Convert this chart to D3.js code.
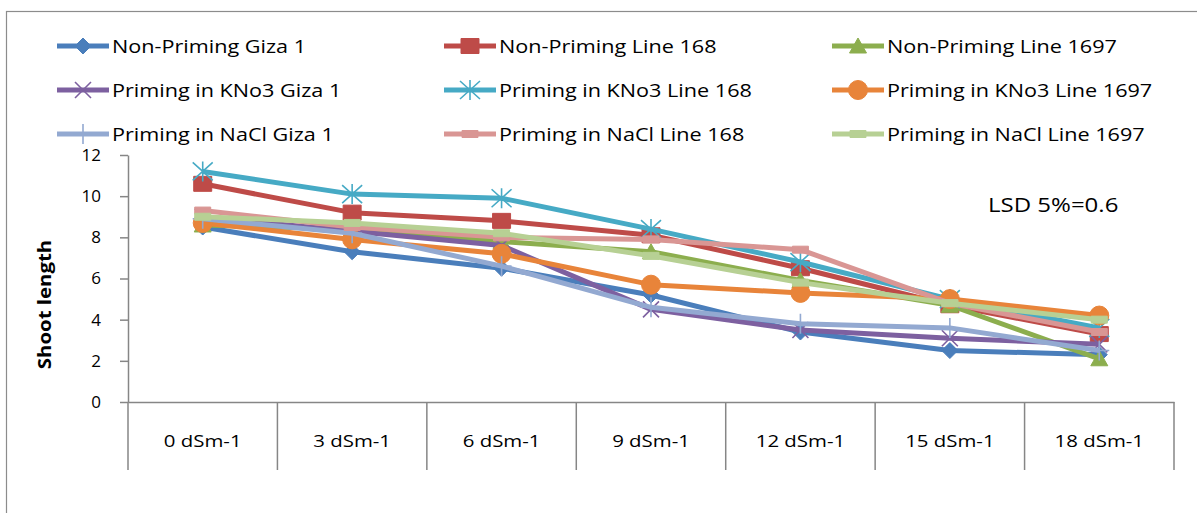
<!DOCTYPE html>
<html>
<head>
<meta charset="utf-8">
<script src="https://cdn.jsdelivr.net/npm/d3@7"></script>
<style>
  html, body { margin: 0; padding: 0; background: #fff; }
  svg { display: block; }
  text { font-family: "Open Sans", "DejaVu Sans", sans-serif; fill: #000; }
</style>
</head>
<body>
<svg id="chart" width="1197" height="513"></svg>
<script>
// Salinity levels on the x axis
const categories = ["0 dSm-1", "3 dSm-1", "6 dSm-1", "9 dSm-1", "12 dSm-1", "15 dSm-1", "18 dSm-1"];

// Shoot length per treatment and line
const nonPrimingGiza1      = [8.5, 7.3, 6.5, 5.2, 3.4, 2.5, 2.3];
const nonPrimingLine168    = [10.6, 9.2, 8.8, 8.1, 6.5, 4.7, 3.3];
const nonPrimingLine1697   = [8.6, 8.4, 7.8, 7.3, 5.9, 4.7, 2.1];
const kno3Giza1            = [9.0, 8.3, 7.6, 4.5, 3.5, 3.1, 2.8];
const kno3Line168          = [11.2, 10.1, 9.9, 8.4, 6.8, 5.0, 3.6];
const kno3Line1697         = [8.7, 7.9, 7.2, 5.7, 5.3, 5.0, 4.2];
const naclGiza1            = [8.9, 8.2, 6.6, 4.6, 3.8, 3.6, 2.5];
const naclLine168          = [9.3, 8.5, 8.0, 7.9, 7.4, 4.8, 3.4];
const naclLine1697         = [9.0, 8.7, 8.2, 7.1, 5.8, 4.8, 4.0];

const seriesNames = [
  "Non-Priming Giza 1", "Non-Priming Line 168", "Non-Priming Line 1697",
  "Priming in KNo3 Giza 1", "Priming in KNo3 Line 168", "Priming in KNo3 Line 1697",
  "Priming in NaCl Giza 1", "Priming in NaCl Line 168", "Priming in NaCl Line 1697"
];
const seriesValues = [
  nonPrimingGiza1, nonPrimingLine168, nonPrimingLine1697,
  kno3Giza1, kno3Line168, kno3Line1697,
  naclGiza1, naclLine168, naclLine1697
];

const yTicks = [0, 2, 4, 6, 8, 10, 12];
const yTitle = "Shoot length";
const lsdNote = "LSD 5%=0.6";

// Styling
const colors = ["#4a7ebb", "#be4b48", "#8cae4e", "#7d60a0", "#46aac5", "#e8843a", "#93a9d1", "#d99694", "#b7d094"];
const markers = ["diamond", "square", "triangle", "times", "asterisk", "circle", "plus", "dash", "dash"];
const TEXT_STRETCH = 1.2;

const svg = d3.select("#chart");

// Outer chart frame
svg.append("rect")
  .attr("x", 6.5).attr("y", 11.5)
  .attr("width", 1300).attr("height", 600)
  .attr("fill", "#fff").attr("stroke", "#8c8c8c").attr("stroke-width", 1.2);

const plot = { left: 128, right: 1174, top: 155, bottom: 402 };

const x = d3.scaleBand().domain(categories).range([plot.left, plot.right]).padding(0);
const y = d3.scaleLinear().domain([0, 12]).range([plot.bottom, plot.top]);
const cx = c => x(c) + x.bandwidth() / 2;

function stretchText(sel, k) {
  sel.each(function () {
    const w = this.getComputedTextLength();
    d3.select(this).attr("textLength", w * k).attr("lengthAdjust", "spacingAndGlyphs");
  });
}

// Marker shapes
function markerPath(type) {
  const p = d3.path();
  switch (type) {
    case "diamond": p.moveTo(0, -8); p.lineTo(8, 0); p.lineTo(0, 8); p.lineTo(-8, 0); p.closePath(); break;
    case "square": p.rect(-9, -7.5, 18, 15); break;
    case "triangle": p.moveTo(0, -8); p.lineTo(8.5, 7); p.lineTo(-8.5, 7); p.closePath(); break;
    case "circle": p.ellipse ? p.ellipse(0, 0, 9.5, 9) : p.arc(0, 0, 9.5, 0, 2 * Math.PI); break;
    case "times": p.moveTo(-8, -8); p.lineTo(8, 8); p.moveTo(-8, 8); p.lineTo(8, -8); break;
    case "asterisk": p.moveTo(-10, -9); p.lineTo(10, 9); p.moveTo(-10, 9); p.lineTo(10, -9); p.moveTo(0, -10); p.lineTo(0, 10); break;
    case "plus": p.moveTo(0, -10); p.lineTo(0, 10); p.moveTo(-10, 0); p.lineTo(10, 0); break;
    case "dash": p.rect(-8, -3.5, 16, 7); break;
  }
  return p.toString();
}
const strokeMarkers = new Set(["times", "asterisk", "plus"]);

function drawMarker(g, type, color) {
  const m = g.append("path").attr("d", markerPath(type));
  if (strokeMarkers.has(type)) {
    m.attr("fill", "none").attr("stroke", color).attr("stroke-width", 1.6);
  } else {
    m.attr("fill", color).attr("stroke", color).attr("stroke-width", 1);
  }
  return m;
}

// Y axis
const yAxis = d3.axisLeft(y).tickValues(yTicks).tickSize(8).tickSizeOuter(0).tickPadding(19).tickFormat(d3.format("d"));
const yg = svg.append("g").attr("transform", `translate(${plot.left},0)`).call(yAxis);
yg.select(".domain").attr("stroke", "#868686").attr("stroke-width", 1.5);
yg.selectAll(".tick line").attr("stroke", "#868686").attr("stroke-width", 1.5);
yg.selectAll(".tick text").attr("font-size", 17).attr("font-family", "Open Sans").attr("fill", "#000");

// X axis: labels centred in each band, separators at band edges
const xAxis = d3.axisBottom(x).tickSize(0).tickSizeOuter(0).tickPadding(33);
const xg = svg.append("g").attr("transform", `translate(0,${plot.bottom})`).call(xAxis);
xg.select(".domain").attr("stroke", "#868686").attr("stroke-width", 1.5);
xg.selectAll(".tick text").attr("font-size", 17).attr("font-family", "Open Sans").attr("fill", "#000")
  .call(stretchText, TEXT_STRETCH);
const edges = categories.map(c => x(c)).concat([x.range()[1]]);
svg.append("g").selectAll("line").data(edges).join("line")
  .attr("x1", d => d).attr("x2", d => d)
  .attr("y1", plot.bottom).attr("y2", plot.bottom + 68)
  .attr("stroke", "#868686").attr("stroke-width", 1.5);

// Y axis title
svg.append("text")
  .attr("transform", `translate(51,${(plot.top + plot.bottom) / 2 + 26}) rotate(-90)`)
  .attr("text-anchor", "middle")
  .attr("font-size", 17).attr("font-weight", "bold")
  .text(yTitle)
  .call(stretchText, TEXT_STRETCH);

// Series lines and markers
const line = d3.line().x((d, i) => cx(categories[i])).y(d => y(d));
seriesValues.forEach((vals, s) => {
  const g = svg.append("g");
  g.append("path").datum(vals)
    .attr("d", line)
    .attr("fill", "none")
    .attr("stroke", colors[s])
    .attr("stroke-width", 5)
    .attr("stroke-linejoin", "round");
  vals.forEach((v, i) => {
    const mg = g.append("g").attr("transform", `translate(${cx(categories[i])},${y(v)})`);
    drawMarker(mg, markers[s], colors[s]);
  });
});

// LSD note
svg.append("text")
  .attr("x", 988).attr("y", 212)
  .attr("font-size", 20)
  .text(lsdNote)
  .call(stretchText, TEXT_STRETCH);

// Legend: 3 columns x 3 rows
const legendCols = [57, 444, 832];
const legendRows = [46, 90, 134];
seriesNames.forEach((name, s) => {
  const col = s % 3, row = Math.floor(s / 3);
  const g = svg.append("g").attr("transform", `translate(${legendCols[col]},${legendRows[row]})`);
  g.append("line").attr("x1", 0).attr("x2", 52).attr("y1", 0).attr("y2", 0)
    .attr("stroke", colors[s]).attr("stroke-width", 5);
  const mg = g.append("g").attr("transform", "translate(26,0)");
  drawMarker(mg, markers[s], colors[s]);
  g.append("text").attr("x", 55).attr("y", 6.5)
    .attr("font-size", 18)
    .text(name)
    .call(stretchText, TEXT_STRETCH);
});
</script>
</body>
</html>
